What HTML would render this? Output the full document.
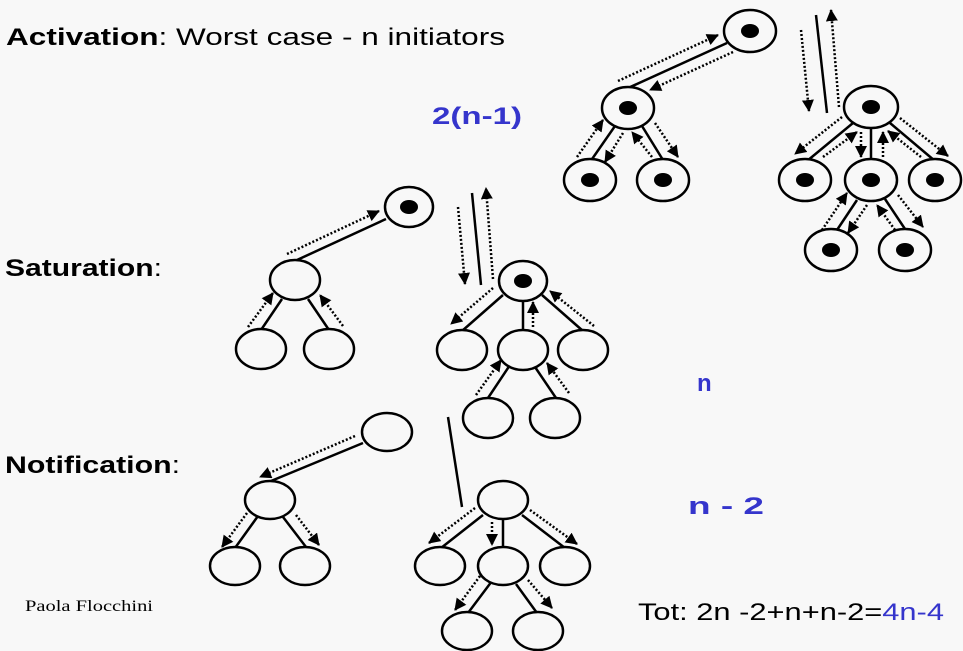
<!DOCTYPE html>
<html><head><meta charset="utf-8"><style>
html,body{margin:0;padding:0;background:#f8f8f8;}
svg{display:block}
text{font-family:"Liberation Sans",sans-serif}
</style></head><body>
<svg width="963" height="651" viewBox="0 0 963 651" xmlns="http://www.w3.org/2000/svg">
<defs>
<marker id="a" markerUnits="userSpaceOnUse" markerWidth="14" markerHeight="14" refX="11" refY="6" orient="auto">
<path d="M0,0 L12,6 L0,12 Z" fill="#000"/>
</marker>
</defs>
<rect width="963" height="651" fill="#f8f8f8"/>

<!-- Text -->
<text x="6" y="45" font-size="24" textLength="499" lengthAdjust="spacingAndGlyphs"><tspan font-weight="bold">Activation</tspan>: Worst case - n initiators</text>
<text x="432" y="124" font-size="24" font-weight="bold" fill="#3535cc" textLength="90" lengthAdjust="spacingAndGlyphs">2(n-1)</text>
<text x="5" y="276" font-size="24" textLength="157" lengthAdjust="spacingAndGlyphs"><tspan font-weight="bold">Saturation</tspan>:</text>
<text x="697" y="391" font-size="24" font-weight="bold" fill="#3535cc">n</text>
<text x="5" y="473" font-size="24" textLength="175" lengthAdjust="spacingAndGlyphs"><tspan font-weight="bold">Notification</tspan>:</text>
<text x="688" y="514" font-size="24" font-weight="bold" fill="#3535cc" textLength="76" lengthAdjust="spacingAndGlyphs">n - 2</text>
<text x="25" y="611" font-size="16" font-family="Liberation Serif,serif" style="font-family:'Liberation Serif',serif" textLength="128" lengthAdjust="spacingAndGlyphs">Paola Flocchini</text>
<text x="638" y="620" font-size="24" textLength="306" lengthAdjust="spacingAndGlyphs">Tot: 2n -2+n+n-2=<tspan fill="#3535cc">4n-4</tspan></text>

<g stroke="#000" stroke-width="2.5" fill="none">
<!-- ACTIVATION solid -->
<line x1="727" y1="43" x2="628" y2="88"/>
<line x1="816" y1="15" x2="827" y2="113"/>
<line x1="615" y1="126" x2="590" y2="162"/>
<line x1="642" y1="126" x2="663" y2="160"/>
<line x1="853" y1="123" x2="807" y2="161"/>
<line x1="871" y1="128" x2="871" y2="160"/>
<line x1="890" y1="123" x2="935" y2="161"/>
<line x1="857" y1="200" x2="835" y2="233"/>
<line x1="885" y1="199" x2="907" y2="232"/>
<!-- SATURATION solid -->
<line x1="386" y1="219" x2="297" y2="260"/>
<line x1="282" y1="299" x2="261" y2="330"/>
<line x1="308" y1="299" x2="329" y2="330"/>
<line x1="472" y1="193" x2="481" y2="285"/>
<line x1="503" y1="295" x2="462" y2="331"/>
<line x1="523" y1="300" x2="523" y2="330"/>
<line x1="542" y1="295" x2="583" y2="331"/>
<line x1="510" y1="365" x2="488" y2="398"/>
<line x1="535" y1="367" x2="556" y2="398"/>
<!-- NOTIFICATION solid -->
<line x1="363" y1="443" x2="271" y2="481"/>
<line x1="258" y1="516" x2="235" y2="548"/>
<line x1="283" y1="517" x2="306" y2="547"/>
<line x1="448" y1="417" x2="462" y2="507"/>
<line x1="483" y1="515" x2="441" y2="548"/>
<line x1="503" y1="520" x2="503" y2="548"/>
<line x1="522" y1="515" x2="565" y2="548"/>
<line x1="492" y1="581" x2="468" y2="613"/>
<line x1="516" y1="584" x2="537" y2="613"/>
</g>

<g stroke="#000" stroke-width="2.5" fill="none" stroke-dasharray="2 2" marker-end="url(#a)">
<!-- ACTIVATION dotted -->
<line x1="618" y1="81" x2="718" y2="35"/>
<line x1="733" y1="52" x2="650" y2="90"/>
<line x1="801" y1="30" x2="809" y2="111"/>
<line x1="839" y1="107" x2="831" y2="10"/>
<line x1="577" y1="157" x2="603" y2="120"/>
<line x1="623" y1="133" x2="605" y2="162"/>
<line x1="652" y1="157" x2="632" y2="132"/>
<line x1="655" y1="123" x2="678" y2="157"/>
<line x1="842" y1="117" x2="795" y2="154"/>
<line x1="823" y1="157" x2="857" y2="132"/>
<line x1="861" y1="132" x2="861" y2="157"/>
<line x1="883" y1="157" x2="883" y2="132"/>
<line x1="921" y1="157" x2="888" y2="131"/>
<line x1="900" y1="118" x2="948" y2="156"/>
<line x1="822" y1="230" x2="847" y2="193"/>
<line x1="867" y1="205" x2="848" y2="233"/>
<line x1="895" y1="230" x2="877" y2="205"/>
<line x1="898" y1="195" x2="923" y2="227"/>
<!-- SATURATION dotted -->
<line x1="287" y1="254" x2="379" y2="211"/>
<line x1="248" y1="327" x2="273" y2="293"/>
<line x1="343" y1="326" x2="320" y2="295"/>
<line x1="458" y1="207" x2="465" y2="284"/>
<line x1="493" y1="279" x2="486" y2="188"/>
<line x1="493" y1="288" x2="451" y2="324"/>
<line x1="533" y1="327" x2="533" y2="302"/>
<line x1="594" y1="326" x2="550" y2="291"/>
<line x1="476" y1="395" x2="501" y2="360"/>
<line x1="569" y1="393" x2="547" y2="363"/>
<!-- NOTIFICATION dotted -->
<line x1="355" y1="436" x2="260" y2="477"/>
<line x1="247" y1="513" x2="222" y2="547"/>
<line x1="296" y1="515" x2="319" y2="545"/>
<line x1="475" y1="508" x2="429" y2="543"/>
<line x1="492" y1="522" x2="492" y2="545"/>
<line x1="530" y1="510" x2="577" y2="544"/>
<line x1="480" y1="576" x2="455" y2="610"/>
<line x1="528" y1="580" x2="552" y2="608"/>
</g>

<g stroke="#000" stroke-width="2.5" fill="#f8f8f8">
<!-- activation nodes -->
<ellipse cx="750" cy="31" rx="26" ry="21"/>
<ellipse cx="628" cy="108" rx="26" ry="21"/>
<ellipse cx="590" cy="180" rx="26" ry="21"/>
<ellipse cx="663" cy="180" rx="26" ry="21"/>
<ellipse cx="871" cy="107" rx="27" ry="21"/>
<ellipse cx="805" cy="180" rx="26" ry="21"/>
<ellipse cx="871" cy="180" rx="26" ry="21"/>
<ellipse cx="935" cy="180" rx="26" ry="21"/>
<ellipse cx="831" cy="250" rx="26" ry="21"/>
<ellipse cx="905" cy="250" rx="26" ry="21"/>
<!-- saturation -->
<ellipse cx="409" cy="207" rx="24" ry="20"/>
<ellipse cx="295" cy="280" rx="25" ry="20"/>
<ellipse cx="261" cy="349" rx="25" ry="20"/>
<ellipse cx="329" cy="349" rx="25" ry="20"/>
<ellipse cx="523" cy="281" rx="24" ry="20"/>
<ellipse cx="462" cy="350" rx="25" ry="20"/>
<ellipse cx="523" cy="350" rx="25" ry="20"/>
<ellipse cx="583" cy="350" rx="25" ry="20"/>
<ellipse cx="488" cy="418" rx="25" ry="20"/>
<ellipse cx="555" cy="418" rx="25" ry="20"/>
<!-- notification -->
<ellipse cx="387" cy="432" rx="25" ry="19"/>
<ellipse cx="270" cy="500" rx="25" ry="19"/>
<ellipse cx="235" cy="566" rx="25" ry="19"/>
<ellipse cx="305" cy="566" rx="25" ry="19"/>
<ellipse cx="503" cy="500" rx="25" ry="19"/>
<ellipse cx="440" cy="566" rx="25" ry="19"/>
<ellipse cx="503" cy="566" rx="25" ry="19"/>
<ellipse cx="565" cy="566" rx="25" ry="19"/>
<ellipse cx="467" cy="631" rx="25" ry="19"/>
<ellipse cx="538" cy="631" rx="25" ry="19"/>
</g>

<g fill="#000">
<ellipse cx="750" cy="31" rx="9" ry="7"/>
<ellipse cx="628" cy="108" rx="9" ry="7"/>
<ellipse cx="590" cy="180" rx="9" ry="7"/>
<ellipse cx="663" cy="180" rx="9" ry="7"/>
<ellipse cx="871" cy="107" rx="9" ry="7"/>
<ellipse cx="805" cy="180" rx="9" ry="7"/>
<ellipse cx="871" cy="180" rx="9" ry="7"/>
<ellipse cx="935" cy="180" rx="9" ry="7"/>
<ellipse cx="831" cy="250" rx="9" ry="7"/>
<ellipse cx="905" cy="250" rx="9" ry="7"/>
<ellipse cx="409" cy="207" rx="9" ry="7"/>
<ellipse cx="523" cy="281" rx="9" ry="7"/>
</g>
</svg>
</body></html>
